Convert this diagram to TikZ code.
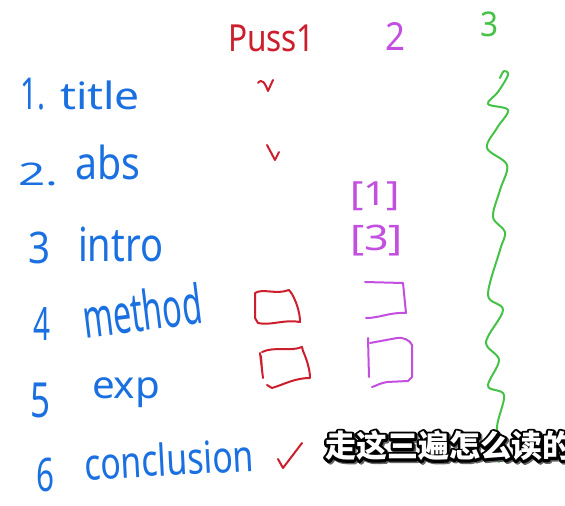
\documentclass[tikz,border=0pt]{standalone}
\usepackage{graphicx}
\usepackage{fontspec}
\setmainfont{Noto Sans}
\newfontfamily\cjk{Noto Sans CJK SC}
\usetikzlibrary{calc}
\definecolor{penblue}{HTML}{1A70E0}
\definecolor{penred}{HTML}{CC1F2E}
\definecolor{penmag}{HTML}{C24FE0}
\definecolor{pengreen}{HTML}{45C247}
\newcommand\fitbox[3]{\resizebox*{#1pt}{#2pt}{\fontsize{40}{40}\selectfont #3}}
\newcommand\outlined[1]{\special{pdf:literal 2 Tr 5 w 1 j 1 J}#1\special{pdf:literal 0 Tr 1 w}}
\tikzset{
  hw/.style={inner sep=0pt, outer sep=0pt, anchor=north west},
  hwb/.style={inner sep=0pt, outer sep=0pt, anchor=base west},
  redstroke/.style={draw=penred, line width=2pt, line cap=round, line join=round},
  magstroke/.style={draw=penmag, line width=2pt, line cap=round, line join=round},
  greenstroke/.style={draw=pengreen, line width=2pt, line cap=round, line join=round},
  subtxt/.style={inner sep=0pt, anchor=west, font=\cjk\bfseries\fontsize{31}{31}\selectfont}
}
\begin{document}
\begin{tikzpicture}[x=1pt,y=-1pt]
\useasboundingbox (0,0) rectangle (565,506);
\clip (0,0) rectangle (565,506);
\fill[white] (0,0) rectangle (565,506);

% left column labels
\node[hw, text=penblue] (n1) at (20,78) {\fitbox{25}{32}{1.}};
\node[hw, text=penblue] (w1) at (60,81) {\fitbox{80}{29}{title}};
\node[hw, text=penblue] (n2) at (18,163) {\fitbox{40}{23}{2.}};
\node[hw, text=penblue] (w2) at (75,145) {\fitbox{65}{35}{abs}};
\node[hw, text=penblue] (n3) at (28,232) {\fitbox{22}{32}{3}};
\node[hw, text=penblue] (w3) at (78,227) {\fitbox{85}{35}{intro}};
\node[hw, text=penblue] (n4) at (33,307) {\fitbox{17}{33}{4}};
\node[hwb, text=penblue, rotate=7] (w4) at (85,338) {\fitbox{120}{42}{method}};
\node[hw, text=penblue] (n5) at (30,383) {\fitbox{20}{35}{5}};
\node[hw, text=penblue] (w5) at (92,378) {\fitbox{68}{30}{exp}};
\node[hw, text=penblue] (n6) at (37,458) {\fitbox{18}{34}{6}};
\node[hwb, text=penblue, rotate=3] (w6) at (85,480) {\fitbox{170}{34}{conclusion}};

% column headers
\node[hw, text=penred] (h1) at (228,25) {\fitbox{87}{27}{Puss1}};
\node[hw, text=penmag] (h2) at (385,22) {\fitbox{20}{28}{2}};
\node[hw, text=pengreen] (h3) at (480,12) {\fitbox{18}{25}{3}};

% pass 1 marks
\draw[redstroke] (258,83) .. controls (262,78) and (265,83) .. (268,91) -- (273,80);
\draw[redstroke] (267,145) -- (275,160) -- (279,152);
\draw[redstroke] (255,293) .. controls (263,288) and (276,295) .. (289,290) -- (292,294)
  .. controls (298,305) and (300,315) .. (300,322)
  .. controls (285,319) and (270,326) .. (258,323) -- (255,318) -- cycle;
\draw[redstroke] (260,353) -- (263,378) (261,356) -- (262,370);
\draw[redstroke] (262,352) .. controls (275,346) and (290,352) .. (302,347)
  -- (303,351) .. controls (307,360) and (310,370) .. (310,378)
  .. controls (295,378) and (285,384) .. (272,388) -- (267,385);
\draw[redstroke] (278,459) -- (283,468) -- (302,443);

% pass 2 marks
\node[hw, text=penmag] (r1) at (350,182) {\fitbox{50}{29}{[1]}};
\node[hw, text=penmag] (r3) at (350,225) {\fitbox{53}{31}{[3]}};
\draw[magstroke] (365,282) -- (403,283) -- (406,313)
  .. controls (390,312) and (380,318) .. (366,318);
\draw[magstroke] (368,338) -- (369,377);
\draw[magstroke] (370,343) -- (397,338) .. controls (403,337) and (410,340) .. (412,345)
  -- (412,377) -- (408,381) -- (387,382) .. controls (380,383) and (376,386) .. (372,387);

% pass 3 wavy line
\draw[greenstroke] plot[smooth, tension=0.55] coordinates {
  (500,78) (504,71) (508,75) (498,92) (488,104) (508,110) (497,128) (487,148)
  (507,165) (500,190) (493,217) (505,232) (500,250) (488,295) (503,310)
  (486,342) (499,360) (488,386) (504,395) (497,427) (499,462)};

% subtitle: black stroked copy under a white copy
\coordinate (subpos) at (325,446);
\node[subtxt, text=black!60] (shadow) at ([shift={(1.5,1.5)}]subpos) {\outlined{走这三遍怎么读的}};
\node[subtxt, text=black] (outline) at (subpos) {\outlined{走这三遍怎么读的}};
\node[subtxt, text=white] (sub) at (subpos) {走这三遍怎么读的};
\end{tikzpicture}
\end{document}
